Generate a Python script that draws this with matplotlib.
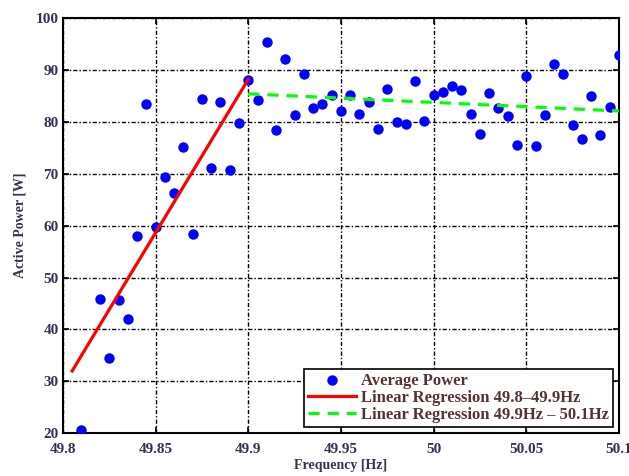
import numpy as np
import matplotlib
matplotlib.use("Agg")
import matplotlib.pyplot as plt

# ── Data ──────────────────────────────────────────────────────────────────────
freq_low = [49.81, 49.82, 49.825, 49.83, 49.835, 49.84, 49.845, 49.85, 49.855,
            49.86, 49.865, 49.87, 49.875, 49.88, 49.885, 49.89, 49.895, 49.9]
power_low = [20.6, 45.8, 34.4, 45.6, 42.0, 58.0, 83.5, 59.8, 69.4,
             66.3, 75.1, 58.3, 84.5, 71.2, 83.8, 70.7, 79.7, 88.1]

freq_high = [49.905, 49.91, 49.915, 49.92, 49.925, 49.93, 49.935, 49.94, 49.945,
             49.95, 49.955, 49.96, 49.965, 49.97, 49.975, 49.98, 49.985, 49.99,
             49.995, 50.0, 50.005, 50.01, 50.015, 50.02, 50.025, 50.03, 50.035,
             50.04, 50.045, 50.05, 50.055, 50.06, 50.065, 50.07, 50.075, 50.08,
             50.085, 50.09, 50.095, 50.1]
power_high = [84.3, 95.4, 78.4, 92.2, 81.3, 89.2, 82.7, 83.4, 85.1,
              82.0, 85.1, 81.6, 83.8, 78.7, 86.4, 80.0, 79.5, 87.8,
              80.2, 85.1, 85.8, 87.0, 86.1, 81.6, 77.6, 85.6, 82.7,
              81.1, 75.5, 88.8, 75.3, 81.4, 91.2, 89.3, 79.3, 76.6,
              85.0, 77.4, 82.9, 92.8]

# regression line ends as drawn in the reference
reg1_x = [49.805, 49.9]
reg1_y = [32.0, 88.2]
reg2_x = [49.9, 50.1]
reg2_y = [85.4, 82.1]

xticks = [49.8, 49.85, 49.9, 49.95, 50, 50.05, 50.1]
xticklabels = ["49.8", "49.85", "49.9", "49.95", "50", "50.05", "50.1"]
yticks = [20, 30, 40, 50, 60, 70, 80, 90, 100]

plt.rcParams["font.family"] = ["Liberation Serif", "DejaVu Serif"]

fig = plt.figure(figsize=(6.29, 4.76), dpi=100)
ax = fig.add_axes([0.100, 0.090, 0.884, 0.872])

ax.plot(freq_low + freq_high, power_low + power_high, "o", color="#0000ff",
        markersize=7.5, markeredgewidth=0, label="Average Power", zorder=3)
ax.plot(reg1_x, reg1_y, "-", color="#ff0000", linewidth=2.3,
        label="Linear Regression 49.8\u201349.9Hz", zorder=4)
ax.plot(reg2_x, reg2_y, "--", color="#00ff00", linewidth=2.3, dashes=(3.5, 2.5),
        label="Linear Regression 49.9Hz \u2013 50.1Hz", zorder=4)

ax.set_xlim(49.8, 50.1)
ax.set_ylim(20, 100)
ax.set_xticks(xticks)
ax.set_xticklabels(xticklabels)
ax.set_yticks(yticks)

ax.grid(True, color="black", linestyle=(0, (3, 1.5, 1, 1.5)), linewidth=1.0)
ax.tick_params(direction="in", top=True, right=True, length=4, width=1.2,
               labelsize=11, pad=3)
ax.tick_params(axis="x", pad=7)
for lab in ax.get_xticklabels() + ax.get_yticklabels():
    lab.set_fontweight("bold")
    lab.set_color("#333355")
for sp in ax.spines.values():
    sp.set_linewidth(1.5)

ax.set_xlabel("Frequency [Hz]", fontsize=10, fontweight="bold", color="#333355", labelpad=2)
ax.set_ylabel("Active Power [W]", fontsize=10, fontweight="bold", color="#333355", labelpad=7)

leg = ax.legend(loc="lower right", fontsize=12, frameon=True, fancybox=False,
                borderpad=0.25, labelspacing=0.05, handlelength=2.9,
                handletextpad=0.3, borderaxespad=0.35, framealpha=1,
                prop={"weight": "bold", "size": 12})
leg.get_frame().set_edgecolor("black")
leg.get_frame().set_linewidth(1.2)
for t in leg.get_texts():
    t.set_color("#553333")

fig.savefig("out.png", dpi=100)
